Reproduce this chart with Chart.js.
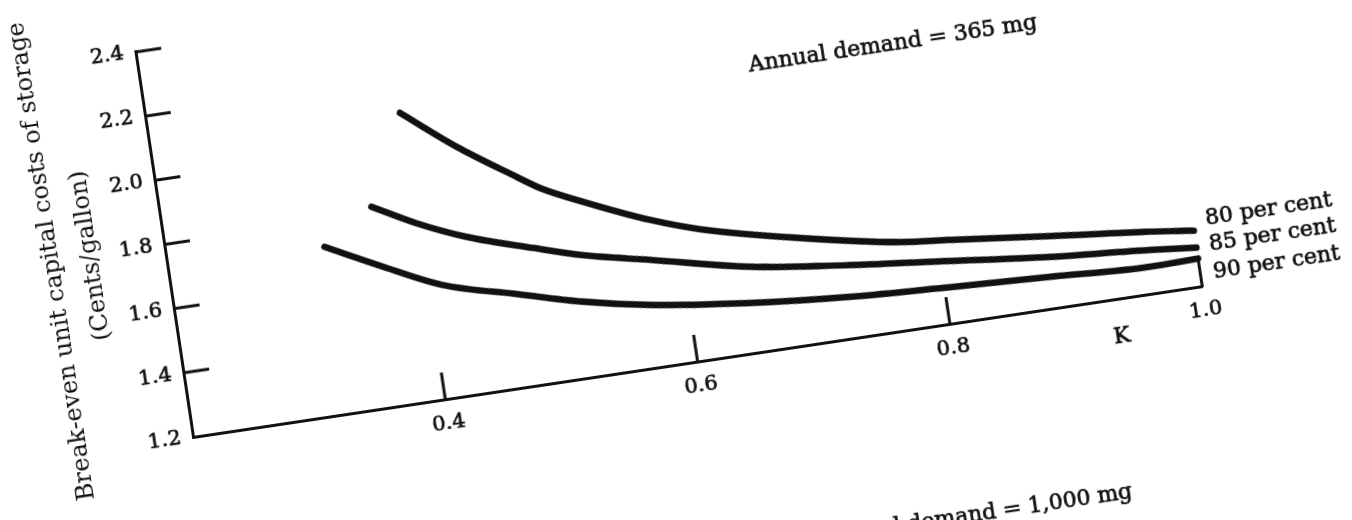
<!DOCTYPE html>
<html>
<head>
<meta charset="utf-8">
<script src="https://cdn.jsdelivr.net/npm/chart.js@4.4.1/dist/chart.umd.min.js"></script>
<style>
  html, body { margin: 0; padding: 0; background: #fff; width: 1352px; height: 520px; overflow: hidden; }
  /* the printed sheet sits slightly turned on the page */
  #sheet { position: absolute; left: 0; top: 0; width: 1500px; height: 720px;
           transform-origin: 193px 437px; transform: rotate(-8.5deg); }
  canvas { display: block; }
</style>
</head>
<body>
<div id="sheet"><canvas id="chart" width="1500" height="720"></canvas></div>
<script>
// Axis ticks
const kTicks = [0.2, 0.4, 0.6, 0.8, 1.0];
const kTickLabels = ['', '0.4', '0.6', '0.8', '1.0'];
const costTicks = [1.2, 1.4, 1.6, 1.8, 2.0, 2.2, 2.4];
const costTickLabels = ['1.2', '1.4', '1.6', '1.8', '2.0', '2.2', '2.4'];

// Curves: break-even unit capital cost (cents/gallon) against K
const seriesNames = ['80 per cent', '85 per cent', '90 per cent'];
const k80    = [0.398, 0.438, 0.481, 0.498, 0.530, 0.580, 0.617, 0.694, 0.771, 0.810, 0.888, 0.966, 1.000];
const cost80 = [2.094, 1.965, 1.846, 1.801, 1.739, 1.653, 1.603, 1.530, 1.472, 1.456, 1.422, 1.390, 1.373];
const k85    = [0.365, 0.398, 0.435, 0.486, 0.523, 0.575, 0.652, 0.729, 0.807, 0.885, 0.964, 1.000];
const cost85 = [1.821, 1.750, 1.686, 1.621, 1.577, 1.532, 1.465, 1.425, 1.392, 1.359, 1.334, 1.320];
const k90    = [0.324, 0.367, 0.411, 0.468, 0.518, 0.570, 0.647, 0.726, 0.804, 0.883, 0.962, 1.000];
const cost90 = [1.720, 1.633, 1.550, 1.488, 1.435, 1.394, 1.355, 1.328, 1.312, 1.298, 1.283, 1.286];

const panelTitle = 'Annual demand = 365 mg';
const nextPanelTitle = 'Annual demand = 1,000 mg';
const kAxisName = 'K';
const costAxisTitle = ['Break-even unit capital costs of storage', '(Cents/gallon)'];

const FONT = '"DejaVu Serif", "Liberation Serif", serif';
const INK = '#111';

const toPoints = (xs, ys) => xs.map((x, i) => ({ x, y: ys[i] }));
const curve = (label, xs, ys) => ({
  label, data: toPoints(xs, ys),
  borderColor: INK, borderWidth: 6.5, pointRadius: 0,
  cubicInterpolationMode: 'monotone', borderCapStyle: 'round', borderJoinStyle: 'round',
  fill: false, clip: false
});

// Inward tick marks, right edge, curve labels and panel captions
const inkPlugin = {
  id: 'ink',
  afterDatasetsDraw(chart) {
    const { ctx, chartArea: a, scales: { x, y } } = chart;
    const seg = (x1, y1, x2, y2) => { ctx.beginPath(); ctx.moveTo(x1, y1); ctx.lineTo(x2, y2); ctx.stroke(); };
    const text = (s, px, py) => { ctx.strokeText(s, px, py); ctx.fillText(s, px, py); };
    ctx.save();
    ctx.strokeStyle = INK;
    ctx.lineWidth = 3;
    costTicks.slice(1).forEach(v => { const py = y.getPixelForValue(v); seg(a.left, py, a.left + 26, py); });
    kTicks.slice(1, -1).forEach(v => { const px = x.getPixelForValue(v); seg(px, a.bottom + 1, px, a.bottom - 27); });
    const xEnd = x.getPixelForValue(1.0);
    seg(xEnd, a.bottom + 1, xEnd, y.getPixelForValue(cost90[cost90.length - 1]));

    ctx.fillStyle = INK;
    ctx.lineWidth = 0.7;
    ctx.font = '22px ' + FONT;
    ctx.textAlign = 'left';
    ctx.textBaseline = 'alphabetic';
    text(panelTitle, x.getPixelForValue(0.674), y.getPixelForValue(2.059));
    text(nextPanelTitle, x.getPixelForValue(0.677), y.getPixelForValue(0.585));

    const labelY = [1.385, 1.306, 1.218];
    seriesNames.forEach((name, i) => text(name, xEnd + 13, y.getPixelForValue(labelY[i])));

    ctx.textAlign = 'center';
    ctx.textBaseline = 'middle';
    text(kAxisName, x.getPixelForValue(0.932), a.bottom + 38);
    ctx.restore();
  }
};

const tickStyle = {
  color: INK, font: { family: FONT, size: 21 }, padding: 12,
  textStrokeColor: INK, textStrokeWidth: 0.7, autoSkip: false
};

new Chart(document.getElementById('chart'), {
  type: 'line',
  data: {
    datasets: [
      curve(seriesNames[0], k80, cost80),
      curve(seriesNames[1], k85, cost85),
      curve(seriesNames[2], k90, cost90)
    ]
  },
  options: {
    responsive: false,
    animation: false,
    events: [],
    layout: { padding: { left: 40, top: 47.8, right: 286.6, bottom: 223 } },
    plugins: { legend: { display: false }, tooltip: { enabled: false } },
    scales: {
      x: {
        type: 'linear', min: 0.2, max: 1.0,
        afterBuildTicks: s => { s.ticks = kTicks.map(v => ({ value: v })); },
        afterFit: s => { s.height = 60; },
        grid: { display: true, drawOnChartArea: false, drawTicks: false },
        border: { display: true, color: INK, width: 3 },
        ticks: { ...tickStyle, maxRotation: 0, callback: (v, i) => kTickLabels[i] }
      },
      y: {
        type: 'linear', min: 1.2, max: 2.4,
        afterBuildTicks: s => { s.ticks = costTicks.map(v => ({ value: v })); },
        afterFit: s => { s.width = 153; },
        grid: { display: true, drawOnChartArea: false, drawTicks: false },
        border: { display: true, color: INK, width: 3 },
        ticks: { ...tickStyle, callback: (v, i) => costTickLabels[i] },
        title: {
          display: true, text: costAxisTitle, color: INK,
          font: { family: FONT, size: 24, lineHeight: '39px' },
          padding: { top: 20.5, bottom: 0 }
        }
      }
    }
  },
  plugins: [inkPlugin]
});
</script>
</body>
</html>
